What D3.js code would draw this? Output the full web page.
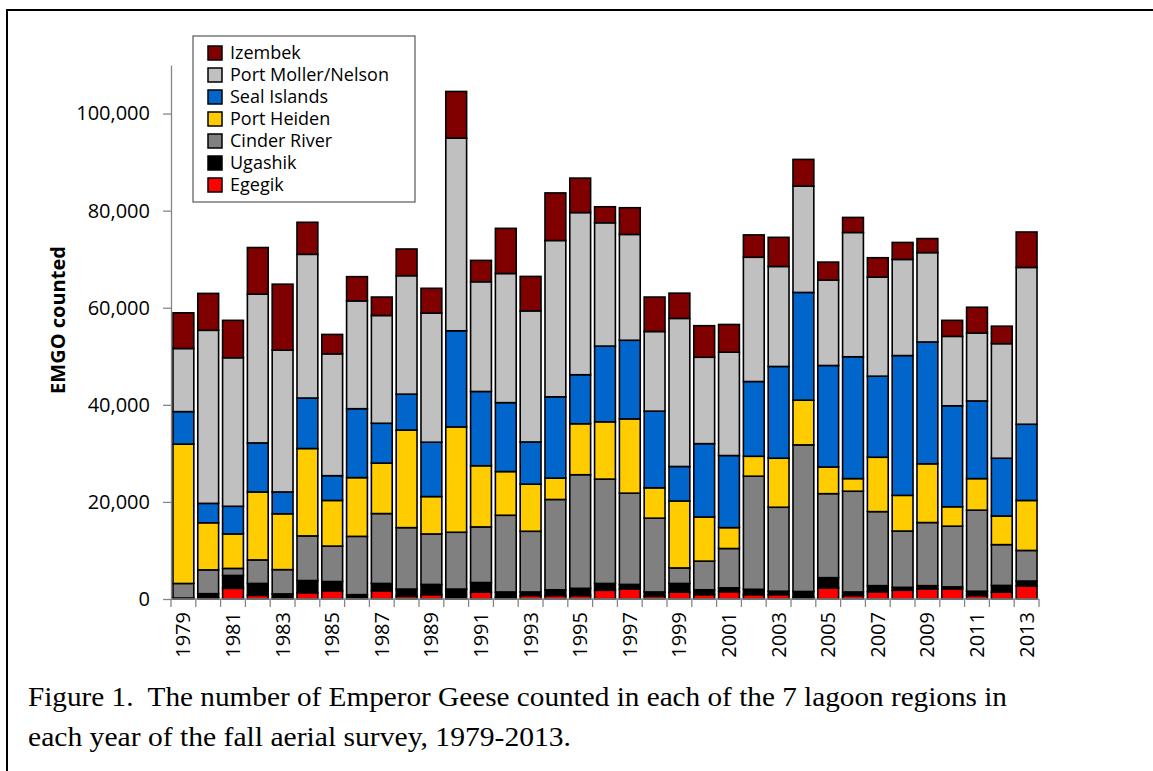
<!DOCTYPE html>
<html>
<head>
<meta charset="utf-8">
<script src="https://cdn.jsdelivr.net/npm/d3@7/dist/d3.min.js"></script>
<style>
  body { margin: 0; background: #fff; }
</style>
</head>
<body>
<div id="chart"></div>
<script>
// survey years and the counts per lagoon region
const years = [1979, 1980, 1981, 1982, 1983, 1984, 1985, 1986, 1987, 1988,
  1989, 1990, 1991, 1992, 1993, 1994, 1995, 1996, 1997, 1998, 1999, 2000,
  2001, 2002, 2003, 2004, 2005, 2006, 2007, 2008, 2009, 2010, 2011, 2012, 2013];

const egegik = [100, 350, 2200, 750, 100, 1300, 1700, 100, 1700, 550, 900, 50,
  1400, 350, 700, 700, 700, 1800, 2100, 550, 1400, 900, 1500, 900, 900, 300,
  2300, 700, 1500, 1800, 2100, 2100, 700, 1400, 2700];
const ugashik = [100, 750, 2650, 2450, 950, 2500, 1900, 800, 1500, 1500, 2100,
  2000, 2000, 1100, 750, 1200, 1500, 1400, 900, 900, 1800, 1000, 800, 1100,
  700, 1250, 2100, 750, 1250, 600, 650, 400, 900, 1400, 1000];
const cinderRiver = [3000, 4900, 1450, 4850, 5000, 9200, 7300, 12000, 14400,
  12650, 10400, 11700, 11450, 15800, 12500, 18600, 23400, 21500, 18800, 15200,
  3200, 5900, 8100, 23300, 17300, 30200, 17300, 20750, 15250, 11600, 13000,
  12500, 16700, 8400, 6300];
const portHeiden = [28700, 9700, 7100, 14000, 11500, 18000, 9400, 12100, 10400,
  20100, 7700, 21700, 12600, 9000, 9700, 4400, 10500, 11800, 15300, 6250, 13800,
  9100, 4300, 4100, 10100, 9200, 5500, 2600, 11200, 7350, 12100, 4000, 6500,
  5900, 10300];
const sealIslands = [6700, 4000, 5700, 10100, 4500, 10400, 5100, 14200, 8200,
  7400, 11200, 19800, 15300, 14200, 8700, 16750, 10100, 15600, 16200, 15800,
  7100, 15100, 14850, 15400, 18900, 22200, 20900, 25100, 16700, 28800, 25100,
  20800, 16000, 11900, 15700];
const portMoller = [13000, 35650, 30600, 30650, 29200, 29600, 25100, 22200,
  22200, 24400, 26600, 39700, 22600, 26600, 27000, 32200, 33400, 25400, 21800,
  16400, 30500, 17800, 21300, 25600, 20600, 21900, 17600, 25600, 20400, 19800,
  18400, 14300, 14000, 23600, 32300];
const izembek = [7350, 7600, 7700, 9600, 13600, 6600, 4000, 5000, 3800, 5500,
  5100, 9600, 4400, 9300, 7100, 9800, 7100, 3300, 5500, 7100, 5200, 6500, 5700,
  4600, 6000, 5500, 3700, 3100, 4000, 3500, 2900, 3300, 5300, 3600, 7300];

const regions = ["Egegik", "Ugashik", "Cinder River", "Port Heiden",
  "Seal Islands", "Port Moller/Nelson", "Izembek"];
const regionValues = [egegik, ugashik, cinderRiver, portHeiden, sealIslands,
  portMoller, izembek];
const regionColors = ["#ff0000", "#000000", "#808080", "#ffcc00", "#0066cc",
  "#c0c0c0", "#800000"];

const yTicks = [0, 20000, 40000, 60000, 80000, 100000];
const yearLabels = years.filter((d, i) => i % 2 === 0);

const captionLines = [
  "Figure 1.  The number of Emperor Geese counted in each of the 7 lagoon regions in",
  "each year of the fall aerial survey, 1979-2013."
];
const captionWidths = [979, 543];

const width = 1153, height = 771;

const table = years.map((yr, i) => {
  const row = { year: yr };
  regions.forEach((r, j) => { row[r] = regionValues[j][i]; });
  return row;
});

const svg = d3.select("#chart")
  .append("svg")
  .attr("width", width)
  .attr("height", height)
  .style("font-family", "'Open Sans', sans-serif");

// frame around the figure (top and left edges show in the picture)
svg.append("path")
  .attr("d", `M7,${height} V10 H${width}`)
  .attr("fill", "none")
  .attr("stroke", "#000")
  .attr("stroke-width", 2);

const x = d3.scaleBand()
  .domain(years)
  .range([171, 1039])
  .paddingInner(0.16)
  .paddingOuter(0.08);

const y = d3.scaleLinear()
  .domain([0, 110000])
  .range([599, 65]);

const color = d3.scaleOrdinal().domain(regions).range(regionColors);

const series = d3.stack().keys(regions)(table);

svg.append("g")
  .selectAll("g")
  .data(series)
  .join("g")
  .attr("fill", d => color(d.key))
  .selectAll("rect")
  .data(d => d)
  .join("rect")
  .attr("x", d => x(d.data.year))
  .attr("y", d => y(d[1]))
  .attr("width", x.bandwidth())
  .attr("height", d => y(d[0]) - y(d[1]))
  .attr("stroke", "#000")
  .attr("stroke-width", 1.6);

// y axis
const yAxis = svg.append("g")
  .attr("transform", "translate(171,0)")
  .call(d3.axisLeft(y).tickValues(yTicks).tickFormat(d3.format(","))
    .tickSize(8).tickPadding(13).tickSizeOuter(0));
yAxis.select(".domain").attr("stroke", "#868686").attr("stroke-width", 1.3);
yAxis.selectAll(".tick line").attr("stroke", "#868686").attr("stroke-width", 1.3);
yAxis.selectAll(".tick text")
  .attr("fill", "#000")
  .style("font-size", "20px")
  .style("font-family", "'Open Sans', sans-serif");

// x axis: ticks between the bars, every other year labelled
const bandEdge = d => x(d) - (x.step() - x.bandwidth()) / 2;
const xAxis = svg.append("g");
xAxis.append("line")
  .attr("x1", 171).attr("x2", 1039)
  .attr("y1", y(0)).attr("y2", y(0))
  .attr("stroke", "#868686").attr("stroke-width", 1.3);
xAxis.selectAll("line.tick")
  .data(years.concat(["end"]))
  .join("line")
  .attr("class", "tick")
  .attr("x1", d => d === "end" ? 1039 : bandEdge(d))
  .attr("x2", d => d === "end" ? 1039 : bandEdge(d))
  .attr("y1", y(0))
  .attr("y2", y(0) + 8)
  .attr("stroke", "#868686").attr("stroke-width", 1.3);
xAxis.selectAll("text")
  .data(yearLabels)
  .join("text")
  .attr("transform", d => `translate(${x(d) + x.bandwidth() / 2},${y(0) + 13}) rotate(-90)`)
  .attr("text-anchor", "end")
  .attr("dy", "0.35em")
  .style("font-size", "20px")
  .text(d => d);

// axis title
svg.append("text")
  .attr("transform", "translate(58,320) rotate(-90)")
  .attr("text-anchor", "middle")
  .attr("dy", "0.35em")
  .style("font-size", "20px")
  .style("font-weight", "bold")
  .text("EMGO counted");

// legend, top entry first
const legend = svg.append("g");
legend.append("rect")
  .attr("x", 193).attr("y", 36)
  .attr("width", 222).attr("height", 166)
  .attr("fill", "#fff")
  .attr("stroke", "#595959")
  .attr("stroke-width", 1.2);

const legendItems = legend.selectAll("g.item")
  .data(regions.slice().reverse())
  .join("g")
  .attr("class", "item")
  .attr("transform", (d, i) => `translate(208,${53 + i * 22})`);

legendItems.append("rect")
  .attr("x", 0).attr("y", -7)
  .attr("width", 14).attr("height", 14)
  .attr("fill", d => color(d))
  .attr("stroke", "#000")
  .attr("stroke-width", 1.5);

legendItems.append("text")
  .attr("x", 22)
  .attr("dy", "0.35em")
  .style("font-size", "18px")
  .text(d => d);

// caption, squeezed to the width it has in the figure
svg.append("g")
  .selectAll("text")
  .data(captionLines)
  .join("text")
  .attr("x", 28)
  .attr("y", (d, i) => 706 + i * 40)
  .attr("textLength", (d, i) => captionWidths[i])
  .attr("lengthAdjust", "spacingAndGlyphs")
  .style("font-family", "'Liberation Serif', 'Times New Roman', serif")
  .style("font-size", "28px")
  .style("white-space", "pre")
  .text(d => d);
</script>
</body>
</html>
